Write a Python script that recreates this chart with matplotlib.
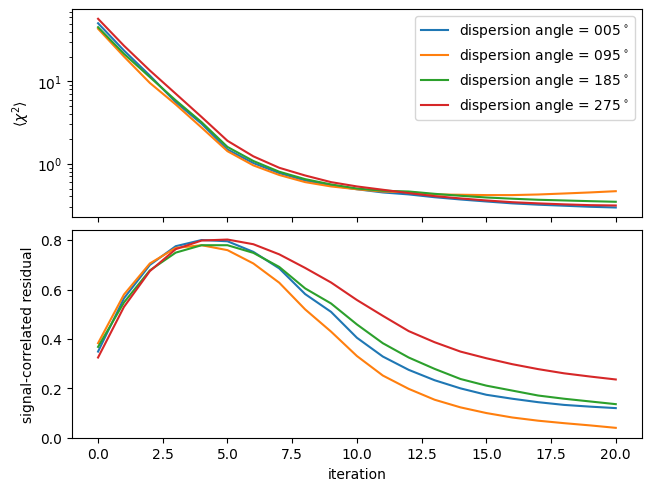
import numpy as np
import matplotlib
matplotlib.use("Agg")
import matplotlib.pyplot as plt

iterations = np.arange(21)
angles = ['005', '095', '185', '275']

# <chi^2> per iteration, one list per dispersion angle
chi2_005 = [51.0, 23.8, 11.8, 5.6, 3.06, 1.49, 1.02, 0.77, 0.627, 0.545, 0.49,
            0.448, 0.424, 0.392, 0.368, 0.348, 0.33, 0.318, 0.309, 0.30, 0.294]
chi2_095 = [43.7, 20.1, 9.6, 5.25, 2.75, 1.42, 0.955, 0.73, 0.598, 0.53, 0.49,
            0.46, 0.452, 0.423, 0.42, 0.416, 0.416, 0.423, 0.435, 0.448, 0.464]
chi2_185 = [45.7, 21.7, 11.3, 5.9, 3.2, 1.6, 1.08, 0.80, 0.65, 0.561, 0.50,
            0.47, 0.46, 0.431, 0.408, 0.389, 0.376, 0.365, 0.358, 0.351, 0.345]
chi2_275 = [57.8, 27.2, 13.6, 7.1, 3.7, 1.9, 1.23, 0.893, 0.72, 0.598, 0.53,
            0.483, 0.44, 0.404, 0.379, 0.358, 0.341, 0.33, 0.321, 0.314, 0.311]

# signal-correlated residual per iteration
res_005 = [0.349, 0.565, 0.70, 0.776, 0.801, 0.796, 0.753, 0.686, 0.582, 0.51, 0.405,
           0.329, 0.275, 0.233, 0.20, 0.174, 0.158, 0.144, 0.133, 0.126, 0.12]
res_095 = [0.383, 0.58, 0.706, 0.769, 0.78, 0.76, 0.706, 0.628, 0.52, 0.43, 0.331,
           0.252, 0.198, 0.154, 0.123, 0.10, 0.082, 0.069, 0.059, 0.05, 0.04]
res_185 = [0.368, 0.548, 0.678, 0.75, 0.78, 0.78, 0.749, 0.692, 0.605, 0.544, 0.459,
           0.383, 0.325, 0.279, 0.238, 0.211, 0.191, 0.171, 0.158, 0.147, 0.136]
res_275 = [0.325, 0.53, 0.675, 0.764, 0.799, 0.803, 0.784, 0.743, 0.688, 0.629, 0.558,
           0.494, 0.432, 0.387, 0.349, 0.322, 0.298, 0.278, 0.261, 0.248, 0.236]

chi2_all = [chi2_005, chi2_095, chi2_185, chi2_275]
res_all = [res_005, res_095, res_185, res_275]

fig, (ax1, ax2) = plt.subplots(2, 1, sharex=True, figsize=(6.4, 4.8), dpi=100,
                               layout='constrained')

for angle, chi2, res in zip(angles, chi2_all, res_all):
    ax1.plot(iterations, chi2, label='dispersion angle = ' + angle + r'$^\circ$')
    ax2.plot(iterations, res)

ax1.set_yscale('log')
ax1.set_ylabel(r'$\langle\chi^2\rangle$')
ax1.legend(loc='upper right')

ax2.set_ylim(bottom=0)
ax2.set_ylabel('signal-correlated residual')
ax2.set_xlabel('iteration')

fig.savefig('out.png', bbox_inches='tight')
